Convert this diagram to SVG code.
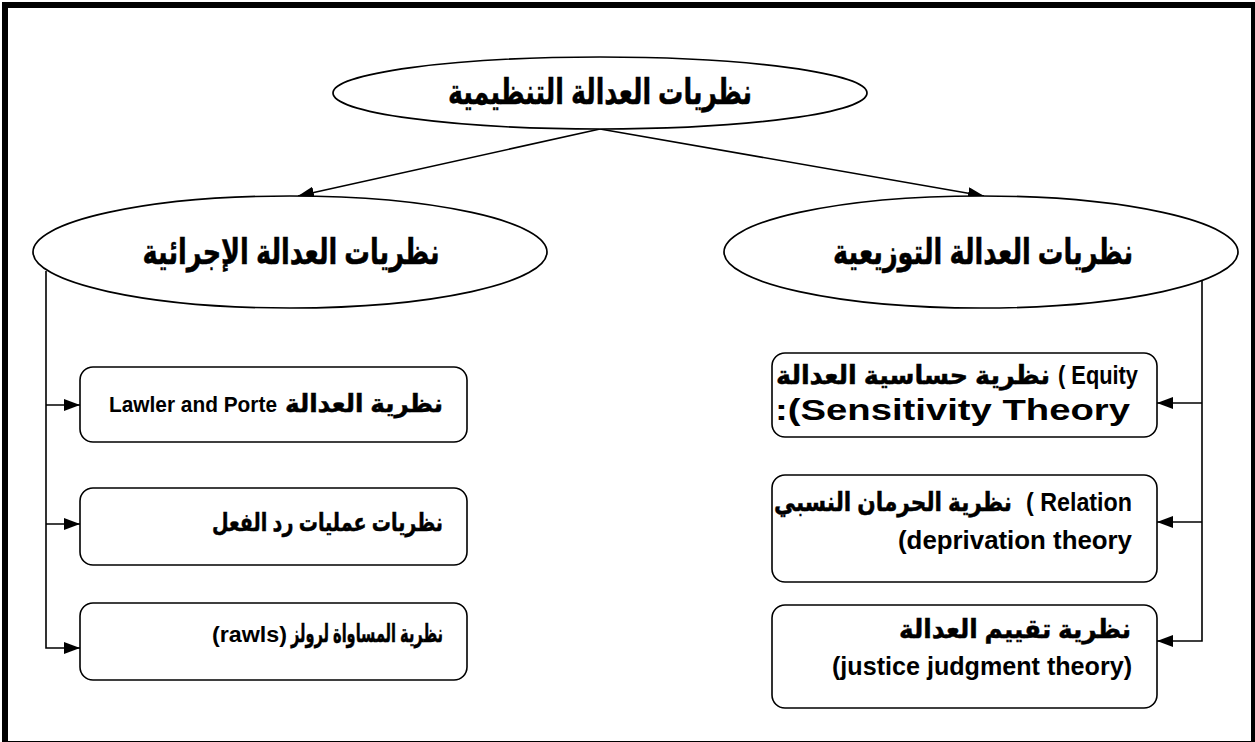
<svg xmlns="http://www.w3.org/2000/svg" width="1255" height="742" viewBox="0 0 1255 742">
  <defs>
    <marker id="arrow" markerWidth="16" markerHeight="12" refX="16" refY="6" orient="auto" markerUnits="userSpaceOnUse">
      <path d="M0,0 L16,6 L0,12 Z" fill="#000"/>
    </marker>
    <clipPath id="clip-r1">
      <rect x="772" y="353" width="385" height="76"/>
    </clipPath>
    <style>
      .frame { fill: #fff; stroke: #000; stroke-width: 6; }
      .oval { fill: #fff; stroke: #000; stroke-width: 1.7; }
      .box { fill: #fff; stroke: #000; stroke-width: 1.6; }
      .conn { fill: none; stroke: #000; stroke-width: 1.6; }
      .ar { font-family: "Liberation Sans", "DejaVu Sans", sans-serif; font-weight: bold; fill: #000; stroke: #000; stroke-width: 0.5; }
      .en { font-family: "Liberation Sans", "DejaVu Sans", sans-serif; font-weight: bold; fill: #000; direction: ltr; unicode-bidi: bidi-override; }
      .big { font-size: 35px; }
      .mid { font-size: 26px; }
      .sm { font-size: 25px; }
    </style>
  </defs>

  <!-- page frame -->
  <rect class="frame" x="5" y="5" width="1249" height="739"/>

  <!-- connectors -->
  <g id="connectors">
    <path class="conn" d="M600,129 L298,196" marker-end="url(#arrow)"/>
    <path class="conn" d="M600,129 L984,196" marker-end="url(#arrow)"/>
    <path class="conn" d="M46,271 V648 H80" marker-end="url(#arrow)"/>
    <path class="conn" d="M46,405 H80" marker-end="url(#arrow)"/>
    <path class="conn" d="M46,524 H80" marker-end="url(#arrow)"/>
    <path class="conn" d="M1202,281 V641 H1157" marker-end="url(#arrow)"/>
    <path class="conn" d="M1202,403 H1157" marker-end="url(#arrow)"/>
    <path class="conn" d="M1202,522 H1157" marker-end="url(#arrow)"/>
  </g>

  <!-- root -->
  <g id="node-root">
    <ellipse class="oval" cx="600" cy="93" rx="267" ry="36"/>
    <text class="ar big" x="600" y="104" text-anchor="middle" textLength="304" lengthAdjust="spacingAndGlyphs">نظريات العدالة التنظيمية</text>
  </g>

  <!-- procedural branch -->
  <g id="node-procedural">
    <ellipse class="oval" cx="290" cy="252" rx="257" ry="56"/>
    <text class="ar big" x="291" y="264" text-anchor="middle" textLength="297" lengthAdjust="spacingAndGlyphs">نظريات العدالة الإجرائية</text>
  </g>

  <!-- distributive branch -->
  <g id="node-distributive">
    <ellipse class="oval" cx="981" cy="252" rx="257" ry="56"/>
    <text class="ar big" x="983" y="264" text-anchor="middle" textLength="300" lengthAdjust="spacingAndGlyphs">نظريات العدالة التوزيعية</text>
  </g>

  <!-- procedural theories -->
  <g id="node-lawler">
    <rect class="box" x="80" y="367" width="387" height="75" rx="13"/>
    <text class="ar sm" x="443" y="412" text-anchor="end" textLength="158" lengthAdjust="spacingAndGlyphs">نظرية العدالة</text>
    <text class="en" x="109" y="412" font-size="22" textLength="168" lengthAdjust="spacingAndGlyphs">Lawler and Porte</text>
  </g>
  <g id="node-reaction">
    <rect class="box" x="80" y="488" width="387" height="77" rx="13"/>
    <text class="ar sm" x="443" y="531" text-anchor="end" textLength="231" lengthAdjust="spacingAndGlyphs">نظريات عمليات رد الفعل</text>
  </g>
  <g id="node-rawls">
    <rect class="box" x="80" y="603" width="387" height="77" rx="13"/>
    <text class="ar sm" x="443" y="642" text-anchor="end" textLength="152" lengthAdjust="spacingAndGlyphs">نظرية المساواة لرولز</text>
    <text class="en" x="212" y="642" font-size="22" textLength="75" lengthAdjust="spacingAndGlyphs">(rawls)</text>
  </g>

  <!-- distributive theories -->
  <g id="node-equity">
    <rect class="box" x="772" y="353" width="385" height="84" rx="13"/>
    <text class="ar mid" x="1050" y="384" text-anchor="end" textLength="274" lengthAdjust="spacingAndGlyphs">نظرية حساسية العدالة</text>
    <text class="en" x="1058" y="384" font-size="25" textLength="80" lengthAdjust="spacingAndGlyphs">( Equity</text>
    <g clip-path="url(#clip-r1)">
      <text class="en" x="775" y="420" font-size="29" textLength="355" lengthAdjust="spacingAndGlyphs">:(Sensitivity Theory</text>
    </g>
  </g>
  <g id="node-relative">
    <rect class="box" x="772" y="475" width="385" height="107" rx="13"/>
    <text class="ar mid" x="1012" y="511" text-anchor="end" textLength="238" lengthAdjust="spacingAndGlyphs">نظرية الحرمان النسبي</text>
    <text class="en" x="1026" y="511" font-size="25" textLength="106" lengthAdjust="spacingAndGlyphs">( Relation</text>
    <text class="en" x="898" y="549" font-size="25" textLength="234" lengthAdjust="spacingAndGlyphs">(deprivation theory</text>
  </g>
  <g id="node-judgment">
    <rect class="box" x="772" y="605" width="385" height="103" rx="13"/>
    <text class="ar mid" x="1131" y="638" text-anchor="end" textLength="232" lengthAdjust="spacingAndGlyphs">نظرية تقييم العدالة</text>
    <text class="en" x="832" y="675" font-size="25" textLength="300" lengthAdjust="spacingAndGlyphs">(justice judgment theory)</text>
  </g>
</svg>
